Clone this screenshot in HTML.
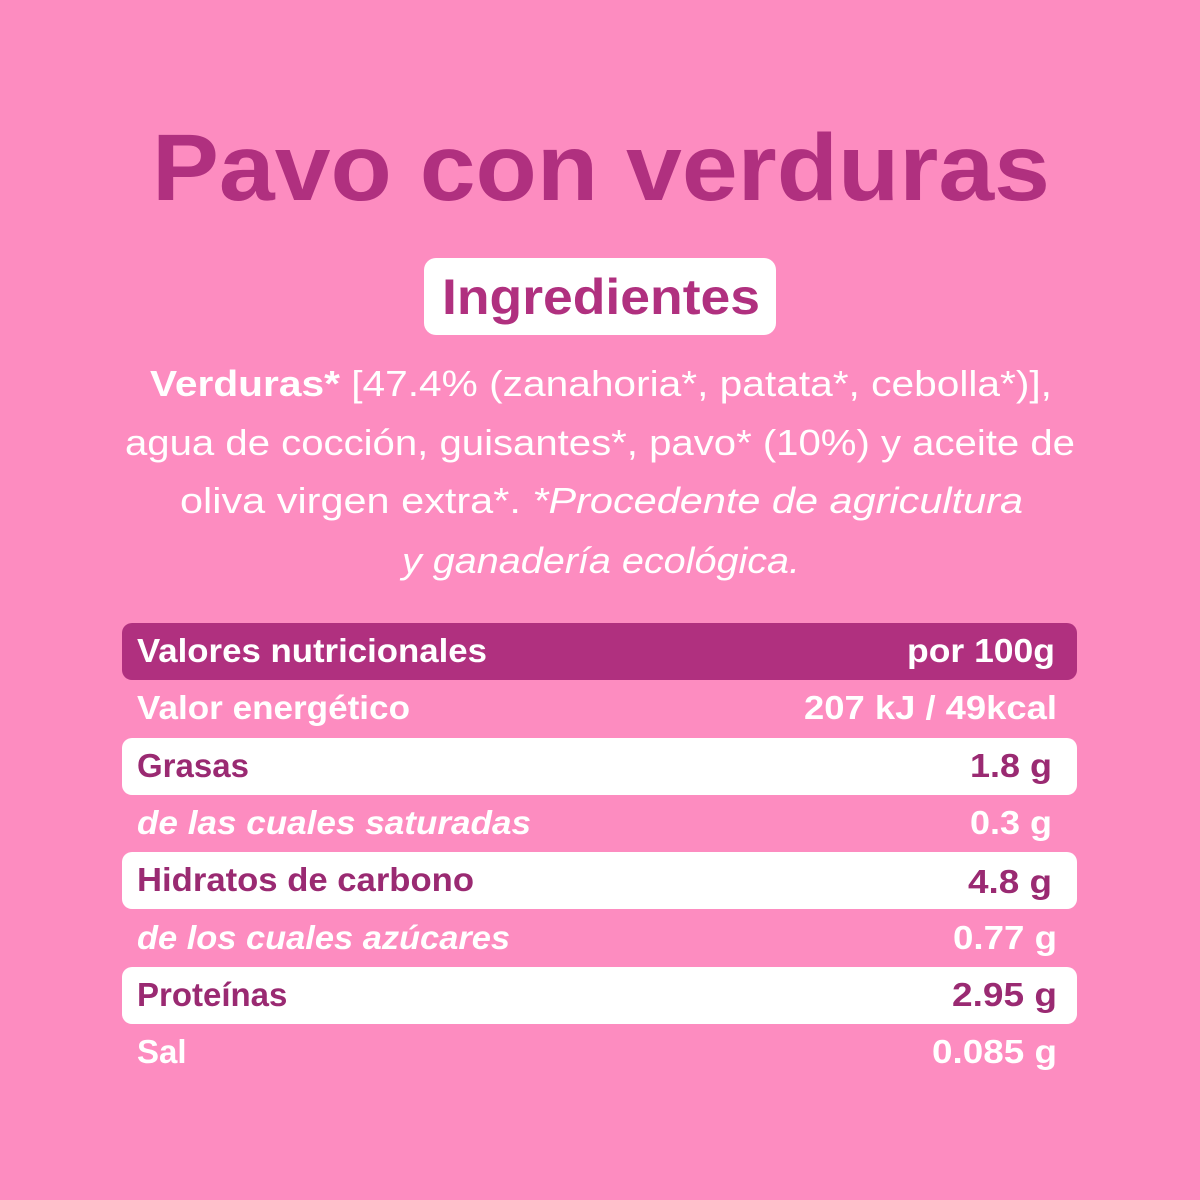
<!DOCTYPE html>
<html><head><meta charset="utf-8"><style>
html,body{margin:0;padding:0;background:#fd8cc0;}
svg{display:block}
text{font-family:"Liberation Sans",sans-serif;}
</style></head><body>
<svg width="1200" height="1200" viewBox="0 0 1200 1200">
<rect width="1200" height="1200" fill="#fd8cc0"/>
<text x="152" y="200" font-size="95" font-weight="bold" fill="#b0307f" textLength="898" lengthAdjust="spacingAndGlyphs">Pavo con verduras</text>
<rect x="424" y="258" width="352" height="77" rx="12" fill="#fff"/>
<text x="442" y="314" font-size="50" font-weight="bold" fill="#b0307f" textLength="318" lengthAdjust="spacingAndGlyphs">Ingredientes</text>
<g fill="#fff" font-size="36">
<text x="150" y="396" textLength="902" lengthAdjust="spacingAndGlyphs"><tspan font-weight="bold">Verduras*</tspan> [47.4% (zanahoria*, patata*, cebolla*)],</text>
<text x="125" y="455" textLength="950" lengthAdjust="spacingAndGlyphs">agua de cocción, guisantes*, pavo* (10%) y aceite de</text>
<text x="180" y="513" textLength="843" lengthAdjust="spacingAndGlyphs">oliva virgen extra*. <tspan font-style="italic">*Procedente de agricultura</tspan></text>
<text x="402" y="573" font-style="italic" textLength="398" lengthAdjust="spacingAndGlyphs">y ganadería ecológica.</text>
</g>
<rect x="122" y="623" width="955" height="57" rx="10" fill="#b0307f"/>
<rect x="122" y="738" width="955" height="57" rx="10" fill="#fff"/>
<rect x="122" y="852" width="955" height="57" rx="10" fill="#fff"/>
<rect x="122" y="967" width="955" height="57" rx="10" fill="#fff"/>
<g font-size="33" font-weight="bold">
<text x="137" y="662" fill="#fff" textLength="350" lengthAdjust="spacingAndGlyphs">Valores nutricionales</text>
<text x="907" y="662" fill="#fff" textLength="148" lengthAdjust="spacingAndGlyphs">por 100g</text>
<text x="137" y="719" fill="#fff" textLength="273" lengthAdjust="spacingAndGlyphs">Valor energético</text>
<text x="804" y="719" fill="#fff" textLength="253" lengthAdjust="spacingAndGlyphs">207 kJ / 49kcal</text>
<text x="137" y="777" fill="#9a2a72">Grasas</text>
<text x="970" y="777" fill="#9a2a72" textLength="82" lengthAdjust="spacingAndGlyphs">1.8 g</text>
<text x="137" y="834" fill="#fff" font-style="italic" textLength="394" lengthAdjust="spacingAndGlyphs">de las cuales saturadas</text>
<text x="970" y="834" fill="#fff" textLength="82" lengthAdjust="spacingAndGlyphs">0.3 g</text>
<text x="137" y="891" fill="#9a2a72" textLength="337" lengthAdjust="spacingAndGlyphs">Hidratos de carbono</text>
<text x="968" y="893" fill="#9a2a72" textLength="84" lengthAdjust="spacingAndGlyphs">4.8 g</text>
<text x="137" y="949" fill="#fff" font-style="italic" textLength="373" lengthAdjust="spacingAndGlyphs">de los cuales azúcares</text>
<text x="953" y="949" fill="#fff" textLength="104" lengthAdjust="spacingAndGlyphs">0.77 g</text>
<text x="137" y="1006" fill="#9a2a72">Proteínas</text>
<text x="952" y="1006" fill="#9a2a72" textLength="105" lengthAdjust="spacingAndGlyphs">2.95 g</text>
<text x="137" y="1063" fill="#fff">Sal</text>
<text x="932" y="1063" fill="#fff" textLength="125" lengthAdjust="spacingAndGlyphs">0.085 g</text>
</g>
</svg>
</body></html>
